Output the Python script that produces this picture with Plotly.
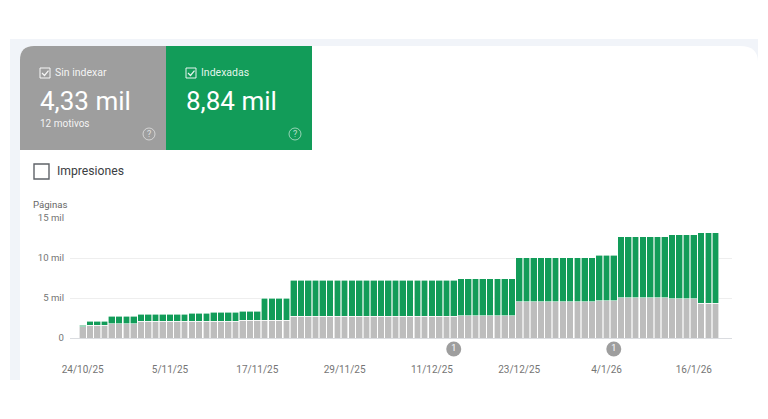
import pandas as pd
import plotly.graph_objects as go

W, H = 768, 419

start_date = "2025-10-24"
not_indexed = [1380, 1580, 1580, 1580, 1790, 1790, 1790, 1790,
               2080, 2080, 2080, 2080, 2080, 2080, 2080, 2080, 2080, 2080, 2080, 2080, 2080, 2080,
               2200, 2200, 2200, 2200, 2200, 2200, 2200,
               2710, 2710, 2710, 2710, 2710, 2710, 2710, 2710, 2710, 2710, 2710, 2710,
               2710, 2710, 2710, 2710, 2710, 2710, 2710, 2710, 2710, 2710, 2710,
               2790, 2790, 2790, 2790, 2790, 2790, 2790, 2790,
               4540, 4540, 4540, 4540, 4540, 4540, 4540, 4540, 4540, 4540, 4540,
               4670, 4670, 4670,
               5040, 5040, 5040, 5040, 5040, 5040, 5040,
               4920, 4920, 4920, 4920,
               4330, 4330, 4330]
indexed = [200, 500, 500, 500, 960, 960, 960, 960,
           880, 880, 880, 880, 880, 880, 880, 1000, 1000, 1000, 1120, 1120, 1120, 1120,
           1170, 1170, 1170, 2760, 2760, 2760, 2760,
           4490, 4490, 4490, 4490, 4490, 4490, 4490, 4490, 4490, 4490, 4490, 4490,
           4490, 4490, 4490, 4490, 4490, 4490, 4490, 4490, 4490, 4490, 4490,
           4630, 4630, 4630, 4630, 4630, 4630, 4630, 4630,
           5500, 5500, 5500, 5500, 5500, 5500, 5500, 5500, 5500, 5500, 5500,
           5660, 5660, 5660,
           7630, 7630, 7630, 7630, 7630, 7630, 7630,
           7960, 7960, 7960, 7960,
           8840, 8840, 8840]
dates = pd.date_range(start_date, periods=len(indexed))

y_ticks = [0, 5000, 10000, 15000]
y_labels = ["0", "5 mil", "10 mil", "15 mil"]
x_ticks = ["2025-10-24", "2025-11-05", "2025-11-17", "2025-11-29", "2025-12-11",
           "2025-12-23", "2026-01-04", "2026-01-16"]
x_labels = ["24/10/25", "5/11/25", "17/11/25", "29/11/25", "11/12/25", "23/12/25", "4/1/26", "16/1/26"]
event_dates = ["2025-12-14", "2026-01-05"]
event_counts = ["1", "1"]
event_level = [0.5, 0.5]

GREY = "#bdbdbd"
GREEN = "#129c59"
CARD_GREY = "#9e9e9e"
FONT = "Roboto"


def px(x):
    return x / W


def py(y):
    return 1 - y / H


def label(x, y, text, size, color, anchor="left"):
    return dict(x=px(x), y=py(y), xref="paper", yref="paper", text=text, showarrow=False,
                xanchor=anchor, yanchor="middle", align="left", borderpad=0, borderwidth=0,
                font=dict(family=FONT, size=size, color=color))


def box(x0, y0, x1, y1, **kw):
    return dict(type="rect", xref="paper", yref="paper", x0=px(x0), y0=py(y0), x1=px(x1), y1=py(y1), **kw)


def path(d_points, **kw):
    # points are in page pixels, letters pass through as svg commands
    out = []
    for p in d_points:
        out.append(p if isinstance(p, str) else f"{px(p[0]):.5f},{py(p[1]):.5f}")
    return dict(type="path", xref="paper", yref="paper", path=" ".join(out), **kw)


def checkbox(x, y, color):
    tick = path(["M", (x + 2, y + 5), "L", (x + 4.5, y + 7.5), "L", (x + 8.5, y + 2.5)],
                line=dict(color=color, width=1.2))
    return [box(x, y, x + 10, y + 10, line=dict(color=color, width=1)), tick]


def help_icon(x, y):
    return dict(type="circle", xref="paper", yref="paper", x0=px(x - 6), x1=px(x + 6),
                y0=py(y - 6), y1=py(y + 6), line=dict(color="rgba(255,255,255,0.55)", width=1))


fig = go.Figure()
fig.add_trace(go.Bar(x=dates, y=not_indexed, name="Sin indexar", marker=dict(color=GREY, line=dict(color="white", width=0.6))))
fig.add_trace(go.Bar(x=dates, y=indexed, name="Indexadas", marker=dict(color=GREEN, line=dict(color="white", width=0.6))))
# the event badges sit under the axis, on a hidden strip of their own
fig.add_trace(go.Scatter(x=event_dates, y=event_level, yaxis="y2", mode="markers+text", text=event_counts,
                         textposition="middle center", textfont=dict(family=FONT, size=9, color="white"),
                         marker=dict(size=15, color="#9e9e9e")))

shapes = [
    # page strip and the white card with its rounded top corners
    box(10, 39, 758, 380, fillcolor="#f1f4f9", line_width=0, layer="below"),
    path(["M", (20, 380), "L", (20, 60), "Q", (20, 46), (34, 46), "L", (740, 46), "Q", (758, 46), (758, 62),
          "L", (758, 380), "Z"], fillcolor="white", line_width=0, layer="below"),
    path(["M", (20, 150), "L", (20, 60), "Q", (20, 46), (34, 46), "L", (166, 46), "L", (166, 150), "Z"],
         fillcolor=CARD_GREY, line_width=0),
    box(166, 46, 312, 150, fillcolor=GREEN, line_width=0),
    box(34, 164, 49, 179, line=dict(color="#5f6368", width=1.4)),
    help_icon(149, 134),
    help_icon(295, 134),
]
shapes += checkbox(40, 68, "rgba(255,255,255,0.9)")
shapes += checkbox(186, 68, "rgba(255,255,255,0.9)")

annotations = [
    label(55, 72, "Sin indexar", 10.5, "rgba(255,255,255,0.9)"),
    label(201, 72, "Indexadas", 10.5, "rgba(255,255,255,0.9)"),
    label(40, 101, "4,33 mil", 26, "white"),
    label(186, 101, "8,84 mil", 26, "white"),
    label(40, 124, "12 motivos", 10, "rgba(255,255,255,0.9)"),
    label(149, 134, "?", 9, "rgba(255,255,255,0.7)", "center"),
    label(295, 134, "?", 9, "rgba(255,255,255,0.7)", "center"),
    label(57, 171, "Impresiones", 12.2, "#3c4043"),
    label(33, 204, "Páginas", 9.6, "#666666"),
]

fig.update_layout(
    width=W, height=H, autosize=False, showlegend=False, barmode="stack", bargap=0.08,
    paper_bgcolor="white", plot_bgcolor="rgba(0,0,0,0)",
    margin=dict(l=0, r=0, t=0, b=0, autoexpand=False),
    shapes=shapes, annotations=annotations,
)
fig.update_xaxes(domain=[px(70), px(732)], type="date",
                 range=["2025-10-22 06:00", "2026-01-21 06:00"],
                 tickvals=x_ticks, ticktext=x_labels, showgrid=False, ticklen=0,
                 ticklabelstandoff=22, showline=True, linecolor="#dadce0", zeroline=False,
                 tickfont=dict(family=FONT, size=10, color="#757575"))
fig.update_yaxes(domain=[py(338), py(218)], range=[0, 15000], tickvals=y_ticks, ticktext=y_labels,
                 gridcolor="#eeeeee", gridwidth=1, zeroline=False, ticklen=0, ticklabelstandoff=5,
                 tickfont=dict(family=FONT, size=9.6, color="#757575"))
fig.update_layout(yaxis2=dict(domain=[py(358), py(340)], range=[0, 1], anchor="x", visible=False))

# the default page margin would push the figure 8 px off the window corner
fig.write_html("out.html", config=dict(displayModeBar=False),
               post_script="document.body.style.margin='0';")
